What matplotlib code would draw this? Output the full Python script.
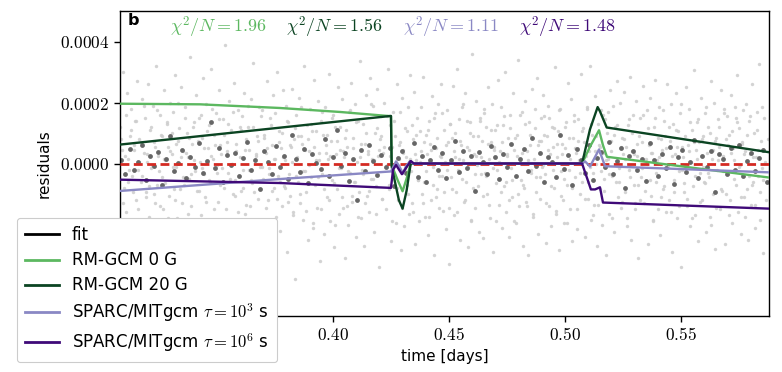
import numpy as np
import matplotlib
matplotlib.use("Agg")
import matplotlib.pyplot as plt
from matplotlib.lines import Line2D

plt.rcParams['mathtext.fontset'] = 'cm'
plt.rcParams['font.family'] = ['DejaVu Sans']

# ---------------- data ----------------
x_range = [0.3084, 0.5879]
y_range = [-0.0005, 0.0005]

yticks = [-0.0004, -0.0002, 0.0, 0.0002, 0.0004]
ytick_labels = ['', '', '$0.0000$', '$0.0002$', '$0.0004$']   # negative labels hidden by the legend
xticks = [0.40, 0.45, 0.50, 0.55]
xtick_labels = ['$0.40$', '$0.45$', '$0.50$', '$0.55$']

# unbinned residuals (ppm), visit A, regular cadence
light_t0 = 0.3086
light_dt = 0.000434
light_res = [
    120, -210, 45, 300, -80, -160, 230, 15, -340, 90, 180, -40, -250, 60, 140, -120, 270, -20, 80, -190,
    -60, 210, -300, 35, 150, -95, 5, 260, -175, 110, -15, -230, 190, 70, -130, 320, -70, 25, -280, 160,
    95, -45, -150, 240, 10, -360, 130, 55, -105, 200, -220, 30, 170, -85, 290, -10, -180, 75, 115, -260,
    250, -130, 40, -70, 185, -300, 100, 20, -50, 350, -140, 65, -205, 135, -25, 225, -90, -315, 150, 5,
    -170, 85, 280, -35, -110, 195, -245, 50, 125, -60, 310, -190, 15, 95, -275, 165, -5, -125, 240, 60,
    30, -215, 145, -80, 390, -150, 70, -30, 205, -330, 110, 0, -100, 265, -55, 40, -195, 175, -240, 120,
    -90, 155, -20, 230, -165, 80, -285, 120, 45, -140, 210, -65, 330, -235, 25, 90, -115, 185, -10, -305,
    175, -50, 95, -200, 35, 270, -120, -15, 150, -260, 60, 225, -80, 15, -175, 300, -40, 105, -220, 50,
    -140, 240, -75, 10, 190, -290, 135, -35, -105, 55, 245, -160, 80, -380, 160, 20, -60, 215, -130, 90,
    65, -185, 320, -25, -95, 125, -250, 40, 180, -45, 105, -210, 275, -70, 10, -145, 205, 35, -320, 140,
    -35, 95, -230, 185, 60, -110, 15, 295, -190, 75, -55, 160, -275, 120, 30, -85, 250, -165, 45, -15,
    210, -145, 20, -310, 110, 55, -200, 170, -30, 265, -125, 85, -60, 195, -240, 5, 140, -95, 335, -180,
    -20, 130, -270, 65, 225, -105, 40, -160, 280, -50, 15, 190, -225, 100, -75, 245, 25, -340, 80, 155,
    -115, 35, 200, -150, -5, 310, -85, 125, -255, 55, 170, -35, 90, -195, 260, -120, 15, 70, -285, 215,
    45, -205, 115, 20, -70, 185, -165, 290, -25, -130, 80, 235, -265, 10, 150, -55, -190, 105, 40, -100,
    285, -60, -175, 95, 30, -235, 140, 65, -120, 220, -10, -300, 165, 50, -85, 195, -145, 25, 260, -40,
    -155, 110, 5, -215, 175, 70, -330, 130, -45, 85, 255, -170, 20, -95, 310, -20, 145, -250, 60, 185,
    10, -125, 230, -60, 140, -275, 45, 100, -190, 360, -80, 30, -145, 205, -5, 90, -225, 150, -35, 75,
    -245, 165, -30, 120, -100, 250, 15, -180, 70, 195, -290, 55, 110, -65, -20, 275, -135, 40, 185, -210,
    125, -75, 300, -160, 25, 85, -240, 160, -15, -110, 230, 45, -195, 95, 340, -140, 5, -55, 170, -270,
    -80, 205, -125, 40, -300, 135, 60, -20, 245, -175, 15, 115, -95, 280, -230, 75, -45, 150, -10, 225,
    155, -35, -260, 90, 190, -140, 30, -205, 120, 55, -80, 315, -165, 20, 105, -285, 180, -25, 65, -120,
    -195, 50, 135, -70, 265, -20, -150, 210, -255, 85, 160, -45, 35, -215, 145, 10, -100, 295, -60, 115,
    70, -240, 25, 180, -115, 40, 320, -185, 95, -30, -135, 220, 0, -270, 130, 60, -85, 175, -200, 35,
    -50, 145, -300, 100, 15, -165, 240, 75, -40, 190, -225, 120, -5, 270, -110, -60, 200, -145, 85, 30,
    235, -95, 55, -180, 125, -20, 285, -250, 40, 160, -70, -130, 205, 25, -310, 90, 150, -45, -15, 255,
    -130, 15, 175, -265, 60, 215, -105, 35, -190, 120, 275, -60, 10, -150, 185, -235, 80, 45, -85, 140,
    90, -160, 260, -10, -120, 75, 195, -290, 130, -55, 30, 230, -180, 105, -25, 165, -340, 55, 20, -95,
    -15, 250, -140, 60, 180, -205, 5, 110, -75, 305, -170, 45, 135, -255, 70, -30, 215, -120, 90, -60,
    165, -225, 35, 120, -45, -175, 270, 15, -100, 200, -280, 85, -20, 145, 55, -150, 240, -90, 25, 180,
    -265, 80, 155, -35, 95, -120, 225, -195, 50, 10, 185, -70, 290, -160, 115, -5, -230, 65, 175, -110,
    40, 195, -85, -250, 140, 30, -135, 260, -60, 100, -210, 20, 170, -40, 325, -185, 75, -15, -295, 150,
]

# unbinned residuals (ppm), visit B, regular cadence
light_b_t0 = 0.3090
light_b_dt = 0.000698
light_b_res = [
    80, -130, 25, 160, -60, -20, 110, -95, 45, 140, -150, 5, 70, -40, 190, -110, 30, -75, 120, -5,
    -100, 55, 175, -25, -140, 90, 15, -65, 135, -180, 40, 100, -10, -120, 65, 200, -85, 20, -45, 150,
    35, -165, 85, -35, 120, 10, -200, 75, -90, 160, -15, 50, -125, 105, -55, 25, 180, -150, 60, -30,
    145, -70, -15, 95, -185, 40, 130, -50, 0, 170, -105, 65, -160, 20, 110, -80, 45, -135, 190, -20,
    -55, 120, -95, 30, 75, -210, 155, -10, 85, -145, 50, -35, 125, -90, 15, 165, -115, 70, -60, 100,
    20, -80, 140, -125, 60, 5, -170, 115, -40, 90, -100, 185, -25, 45, -155, 80, -5, 130, -195, 55,
    105, -45, 10, -150, 170, -85, 35, 95, -120, 25, 150, -65, -200, 75, -15, 120, -110, 40, 85, -140,
    -25, 175, -105, 50, -60, 135, -175, 20, 65, -35, -130, 100, 30, -90, 195, -50, 10, -165, 115, 45,
    90, -115, 55, -10, 155, -70, 25, -190, 140, 0, -80, 60, 170, -145, 35, -20, 105, -100, 15, 125,
    -160, 30, 95, -55, 5, 185, -130, 70, -25, 110, -175, 45, -70, 150, -110, 85, -40, 20, 165, -95,
    60, -20, -145, 130, -85, 40, 100, -160, 15, 75, -50, 195, -120, 55, -10, 135, -185, 90, -35, 25,
    -75, 140, 20, -105, 180, -40, 65, -135, 110, -15, 45, -190, 125, 5, -95, 70, 155, -60, 30, -120,
    115, -55, -190, 85, 25, -100, 160, 35, -70, 130, -140, 10, 95, -30, -165, 180, -45, 60, -115, 75,
    -5, 95, -130, 45, 150, -75, -20, 115, -155, 65, 175, -105, 30, -50, 120, -195, 85, 15, -80, 140,
    50, -150, 75, -30, 105, 20, -115, 185, -60, -10, 130, -170, 40, 90, -135, 55, -25, 160, -90, 10,
    170, -35, 40, -180, 95, -60, 125, -15, 55, -125, 80, 15, -205, 145, -45, 100, 30, -150, 65, -70,
    -120, 70, 160, -90, 0, 115, -55, 35, -185, 150, -30, 85, 20, -110, 175, -75, 50, -5, 120, -160,
    25, -95, 110, 55, -140, 195, -20, -65, 90, -115, 40, 135, -180, 70, -40, 15, 145, -125, 80, -10,
    -65, 185, -30, 100, -200, 45, 75, -145, 10, 120, -85, -25, 165, -100, 60, -170, 35, 105, -50, 150,
    135, -10, -110, 70, 30, -175, 95, -40, 155, -70, 20, -135, 110, 45, -95, 185, -55, 5, -120, 80,
]

# binned residuals (ppm), regular cadence
dark_t0 = 0.3090
dark_dt = 0.00175
dark_res = [
    12, -35, 48, -20, 5, 60, -55, 25, -8, 38, -70, 15, 90, -25, 3, 44, -48, 20, -12, 66,
    -30, 8, 135, -15, 52, -62, 28, -5, 35, -40, 18, 72, -22, 10, -85, 40, 6, -33, 58, -10,
    25, -50, 95, 14, -28, 48, -65, 30, 2, -18, 80, -42, 22, 110, -8, 36, -58, 16, -120, 45,
    -25, 62, 8, -38, 28, -12, 50, -75, 18, 40, -30, 5, 68, -45, 24, -60, 12, 55, -20, 34,
    -48, 10, 74, -28, 42, -15, 26, -90, 38, 6, -35, 58, 20, -52, 30, -10, 65, -40, 14, 48,
    -25, 85, -8, 36, -62, 22, 4, -45, 92, -18, 28, -70, 46, 12, -30, 60, -55, 18, 38, -12,
    70, -35, 8, 52, -80, 25, 42, -22, 15, -58, 66, 10, -40, 32, -15, 55, -68, 20, 45, -28,
    6, 78, -48, 24, -10, 40, -95, 30, 14, -36, 50, -20, 62, -42, 8, 35, -25, 18, 44, -60,
]

# model residual curves (time [days], residual [ppm])
rm0_t = [0.3084, 0.3429, 0.3773, 0.4031, 0.4251, 0.4254, 0.4280, 0.4301, 0.4318, 0.4336,
         0.5074, 0.5108, 0.5147, 0.5164, 0.5181, 0.5879]
rm0_r = [196, 194, 182, 169, 155, -5, -55, -91, -50, 0,
         0, 55, 109, 60, 22, -46]

rm20_t = [0.3084, 0.4251, 0.4254, 0.4285, 0.4301, 0.4318, 0.4336,
          0.5074, 0.5108, 0.5141, 0.5151, 0.5180, 0.5879]
rm20_r = [62, 156, -10, -120, -148, -90, 0,
          0, 112, 185, 171, 118, 37]

sp3_t = [0.3084, 0.3773, 0.4251, 0.4260, 0.4273, 0.4286, 0.4303, 0.4316, 0.4333, 0.4346,
         0.5074, 0.5087, 0.5108, 0.5147, 0.5173, 0.5879]
sp3_r = [-90, -51, -26, -13, 7, -8, -33, -8, 7, 0,
         0, 7, -10, 46, -9, -29]

sp6_t = [0.3084, 0.3773, 0.4251, 0.4260, 0.4273, 0.4298, 0.4336, 0.4350,
         0.5074, 0.5112, 0.5130, 0.5151, 0.5164, 0.5879]
sp6_r = [-53, -64, -80, -20, -5, -35, 8, 0,
         0, -85, -85, -78, -128, -148]

chi_labels = [r'$\chi^2/N = 1.96$', r'$\chi^2/N = 1.56$', r'$\chi^2/N = 1.11$', r'$\chi^2/N = 1.48$']
series_names = ['RM-GCM 0 G', 'RM-GCM 20 G',
                r'SPARC/MITgcm $\tau = 10^3$ s', r'SPARC/MITgcm $\tau = 10^6$ s']
colors = ['#5cb860', '#0b4422', '#8a88c4', '#3f0a78']

# ---------------- plot ----------------
W, H = 782, 372
fig = plt.figure(figsize=(W / 100, H / 100), dpi=100)
ax = fig.add_axes([120 / W, 56 / H, 649 / W, 305 / H])

light_t = light_t0 + light_dt * np.arange(len(light_res))
light_b_t = light_b_t0 + light_b_dt * np.arange(len(light_b_res))
dark_t = dark_t0 + dark_dt * np.arange(len(dark_res))
for t, r in [(light_t, light_res), (light_b_t, light_b_res)]:
    ax.scatter(t, np.array(r) * 1e-6, s=6, color='#cccccc', alpha=0.85,
               linewidths=0, zorder=1)
ax.scatter(dark_t, np.array(dark_res) * 1e-6, s=12, color='#666666',
           linewidths=0, zorder=2)

ax.plot(x_range, [0, 0], color='#d42a22', lw=2.0, ls=(0, (3.2, 1.6)), zorder=3)

curves = [(rm0_t, rm0_r), (rm20_t, rm20_r), (sp3_t, sp3_r), (sp6_t, sp6_r)]
handles = [Line2D([], [], color='k', lw=1.8, label='fit')]
for (t, r), c, name in zip(curves, colors, series_names):
    ln, = ax.plot(t, np.array(r) * 1e-6, color=c, lw=1.7, zorder=4, label=name)
    handles.append(ln)

ax.set_xlim(*x_range)
ax.set_ylim(*y_range)
ax.set_xticks(xticks)
ax.set_xticklabels(xtick_labels)
ax.set_yticks(yticks)
ax.set_yticklabels(ytick_labels)
ax.tick_params(labelsize=12.5, length=4, width=1, direction='out')
for sp in ax.spines.values():
    sp.set_linewidth(1.0)

ax.set_xlabel('time [days]', fontsize=11, labelpad=3)
ax.set_ylabel('residuals', fontsize=11, labelpad=6)

ax.text(0.012, 0.97, 'b', transform=ax.transAxes, fontsize=11.5, fontweight='bold',
        ha='left', va='center')
chi_x = [219, 335, 451, 568]
for cx, lab, c in zip(chi_x, chi_labels, colors):
    ax.text((cx - 120) / 649, 0.948, lab, transform=ax.transAxes, color=c,
            fontsize=13, ha='center', va='center')

leg = fig.legend(handles=handles, loc='upper left', bbox_to_anchor=(17 / W, 1 - 218 / H),
                 bbox_transform=fig.transFigure, borderaxespad=0, fontsize=12,
                 framealpha=1, edgecolor='#cccccc', handlelength=2.0, labelspacing=0.42,
                 borderpad=0.5, handletextpad=0.8)
leg.get_frame().set_linewidth(0.8)
for l in leg.get_lines():
    l.set_linewidth(2.0)

fig.savefig('out.png', dpi=100)
